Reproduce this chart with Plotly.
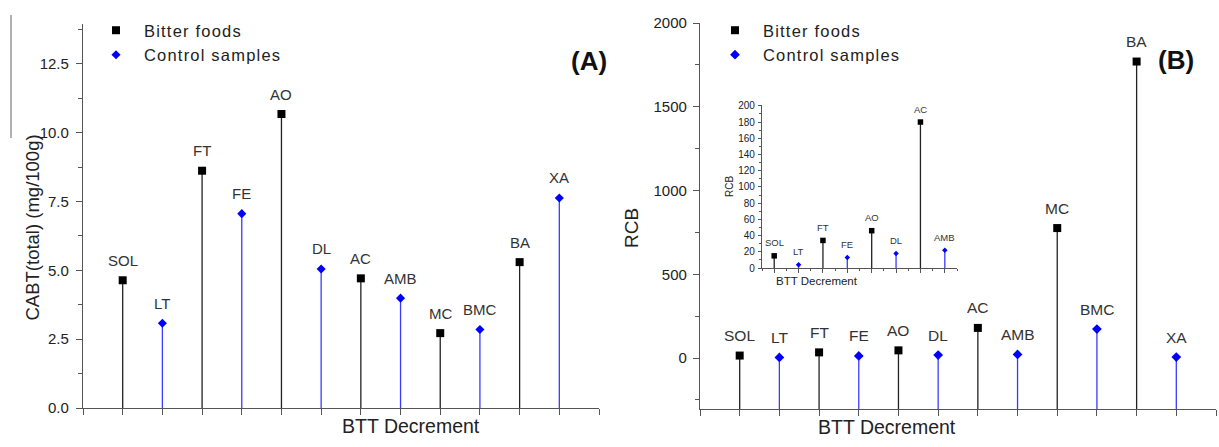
import plotly.graph_objects as go

# ---------------- data ----------------
categories = ["SOL", "LT", "FT", "FE", "AO", "DL", "AC", "AMB", "MC", "BMC", "BA", "XA"]
groups = ["Bitter foods", "Control samples"] * 6
cabt_values = [4.64, 3.08, 8.62, 7.06, 10.68, 5.05, 4.71, 3.99, 2.72, 2.85, 5.30, 7.63]
rcb_values = [15, 4, 34, 13, 46, 18, 180, 22, 776, 173, 1770, 6]
inset_categories = categories[:8]
inset_values = rcb_values[:8]

# ---------------- styling ----------------
W, H = 1219, 447
FONT = "Arial, Liberation Sans, sans-serif"
AXC = "#555555"
STYLE = {
    "Bitter foods": dict(symbol="square", color="#000000", stem="#222222"),
    "Control samples": dict(symbol="diamond", color="#0000ff", stem="#3a3aff"),
}
A_RANGE = [0, 13.95]
B_RANGE = [-304, 2000]
I_RANGE = [0, 201]


def px(x):
    return x / W


def py(y):
    return (H - y) / H


def stems(xs, vs, base):
    X, Y = [], []
    for x, v in zip(xs, vs):
        X += [x, x, None]
        Y += [base, v, None]
    return X, Y


def spaced(t, ls=1.2):
    return f'<span style="letter-spacing:{ls}px">{t}</span>'


fig = go.Figure()

panels = [
    dict(vals=cabt_values, cats=categories, xa="x", ya="y", base=A_RANGE[0], msize=(8, 7),
         legend="legend", showlegend=True, lab=15, shift=20),
    dict(vals=rcb_values, cats=categories, xa="x2", ya="y2", base=B_RANGE[0], msize=(8, 7.5),
         legend="legend2", showlegend=True, lab=15.5, shift=20),
    dict(vals=inset_values, cats=inset_categories, xa="x3", ya="y3", base=I_RANGE[0], msize=(5.5, 4.2),
         legend="legend", showlegend=False, lab=9.5, shift=13),
]

annotations = []
for p in panels:
    xs_all = list(range(1, len(p["cats"]) + 1))
    grp = groups[:len(p["cats"])]
    for g in ["Bitter foods", "Control samples"]:
        st = STYLE[g]
        xs = [x for x, gg in zip(xs_all, grp) if gg == g]
        vs = [v for v, gg in zip(p["vals"], grp) if gg == g]
        sx, sy = stems(xs, vs, p["base"])
        fig.add_trace(go.Scatter(x=sx, y=sy, mode="lines", xaxis=p["xa"], yaxis=p["ya"],
                                 line=dict(color=st["stem"], width=1.3), showlegend=False,
                                 hoverinfo="skip"))
        size = p["msize"][0] if st["symbol"] == "square" else p["msize"][1]
        fig.add_trace(go.Scatter(x=xs, y=vs, mode="markers", name=spaced(g), xaxis=p["xa"],
                                 yaxis=p["ya"],
                                 marker=dict(symbol=st["symbol"], color=st["color"], size=size,
                                             line=dict(width=0)),
                                 showlegend=p["showlegend"], legend=p["legend"]))
    for x, v, c in zip(xs_all, p["vals"], p["cats"]):
        annotations.append(dict(x=x, y=v, xref=p["xa"], yref=p["ya"], text=c, showarrow=False,
                                yanchor="middle", yshift=p["shift"],
                                font=dict(size=p["lab"], color="#333333", family=FONT)))


def xaxis(domain, rng, tv, anchor, tl=6, minor=None):
    d = dict(domain=domain, range=rng, tickvals=tv, showticklabels=False, ticks="outside",
             ticklen=tl, tickcolor=AXC, tickwidth=1.3, showline=True, linecolor=AXC,
             linewidth=1.3, showgrid=False, zeroline=False, anchor=anchor, fixedrange=True,
             automargin=False)
    if minor:
        d["minor"] = minor
    return d


def yaxis(domain, rng, tv, tt, anchor, fs=15, tl=6, minor=None, standoff=4):
    d = dict(domain=domain, range=rng, tickvals=tv, ticktext=tt, ticks="outside", ticklen=tl,
             tickcolor=AXC, tickwidth=1.3, showline=True, linecolor=AXC, linewidth=1.3,
             showgrid=False, zeroline=False, anchor=anchor, ticklabelstandoff=standoff,
             tickfont=dict(size=fs, color="#222222", family=FONT), fixedrange=True,
             automargin=False)
    if minor:
        d["minor"] = minor
    return d


a_ticks = [0, 2.5, 5, 7.5, 10, 12.5]
b_ticks = [0, 500, 1000, 1500, 2000]
i_ticks = list(range(0, 201, 20))

fig.update_layout(
    width=W, height=H, margin=dict(l=0, r=0, t=0, b=0, autoexpand=False),
    paper_bgcolor="white", plot_bgcolor="rgba(0,0,0,0)",
    font=dict(family=FONT, color="#222222"),
    xaxis=xaxis([px(83), px(599)], [0, 13], list(range(0, 14)), "y"),
    yaxis=yaxis([py(408), py(24)], A_RANGE, a_ticks, [f"{t:.1f}" for t in a_ticks], "x",
                minor=dict(dtick=1.25, tick0=0, ticks="outside", ticklen=4, tickcolor=AXC,
                           showgrid=False)),
    xaxis2=xaxis([px(700), px(1216)], [0, 13], list(range(0, 14)), "y2"),
    yaxis2=yaxis([py(409), py(23)], B_RANGE, b_ticks, [str(t) for t in b_ticks], "x2",
                 minor=dict(dtick=250, tick0=0, ticks="outside", ticklen=4, tickcolor=AXC,
                            showgrid=False), standoff=3),
    xaxis3=xaxis([px(762), px(957)], [0.5, 8.5], list(range(1, 9)), "y3", tl=4,
                 minor=dict(dtick=0.5, tick0=0.5, ticks="outside", ticklen=2, tickcolor=AXC,
                            showgrid=False)),
    yaxis3=yaxis([py(268), py(105)], I_RANGE, i_ticks, [str(t) for t in i_ticks], "x3",
                 fs=10, tl=3, standoff=1,
                 minor=dict(dtick=10, tick0=0, ticks="outside", ticklen=2, tickcolor=AXC,
                            showgrid=False)),
    legend=dict(x=px(88), y=py(13), xanchor="left", yanchor="top", bgcolor="rgba(0,0,0,0)",
                font=dict(size=16.5, color="#222222", family=FONT), tracegroupgap=0,
                itemwidth=46),
    legend2=dict(x=px(707), y=py(13), xanchor="left", yanchor="top", bgcolor="rgba(0,0,0,0)",
                 font=dict(size=16.5, color="#222222", family=FONT), tracegroupgap=0,
                 itemwidth=46),
    showlegend=True,
)

annotations += [
    dict(x=px(20), y=py(228), xref="paper", yref="paper", text="CABT(total) (mg/100g)",
         textangle=-90, showarrow=False, font=dict(size=18.5, color="#222222", family=FONT)),
    dict(x=px(632), y=py(228), xref="paper", yref="paper", text="RCB",
         textangle=-90, showarrow=False, font=dict(size=19, color="#222222", family=FONT)),
    dict(x=px(340), y=py(439), xref="paper", yref="paper", text="BTT Decrement",
         showarrow=False, font=dict(size=19.5, color="#222222", family=FONT)),
    dict(x=px(958), y=py(440), xref="paper", yref="paper", text="BTT Decrement",
         showarrow=False, font=dict(size=19.5, color="#222222", family=FONT)),
    dict(x=px(729), y=py(187), xref="paper", yref="paper", text="RCB",
         textangle=-90, showarrow=False, font=dict(size=10, color="#222222", family=FONT)),
    dict(x=px(860), y=py(281), xref="paper", yref="paper", text="BTT Decrement",
         showarrow=False, font=dict(size=11.5, color="#222222", family=FONT)),
    dict(x=px(589), y=py(44), xref="paper", yref="paper", text="<b>(A)</b>",
         showarrow=False, font=dict(size=26, color="#111111", family=FONT)),
    dict(x=px(1196), y=py(43), xref="paper", yref="paper", text="<b>(B)</b>",
         showarrow=False, font=dict(size=26, color="#111111", family=FONT)),
]
fig.update_layout(annotations=annotations)

fig.add_shape(type="line", xref="paper", yref="paper", x0=px(11), x1=px(11), y0=py(15), y1=py(138),
              line=dict(color="#888888", width=1.3))

fig.write_html(
    "out.html",
    config={"displayModeBar": False},
    post_script="document.body.style.margin='0';document.body.style.padding='0';"
                "document.documentElement.style.overflow='hidden';",
)
